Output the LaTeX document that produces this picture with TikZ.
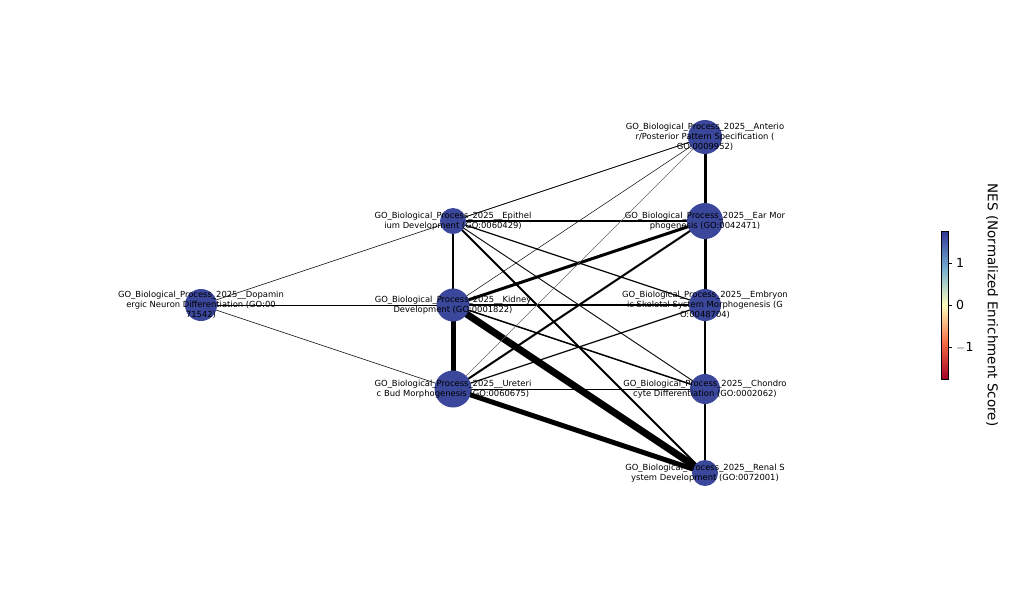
\documentclass[tikz,border=0pt]{standalone}
\usepackage{fontspec}
\setmainfont{DejaVu Sans}
\usetikzlibrary{positioning,backgrounds}
\definecolor{nesblue}{HTML}{3A479A}
\definecolor{rdA}{HTML}{A50026}
\definecolor{rdB}{HTML}{F46D43}
\definecolor{rdC}{HTML}{FFFFBF}
\definecolor{rdD}{HTML}{74ADD1}
\definecolor{rdE}{HTML}{313695}
\tikzset{
  term/.style = {circle, fill = nesblue, inner sep = 0pt},
  lbl/.style = {align = center, font = \fontsize{8.4}{10.2}\selectfont, inner sep = 0pt},
  link/.style = {line width = #1}
}
\begin{document}
\begin{tikzpicture}[x = 1pt, y = -1pt]
  \useasboundingbox (0, 0) rectangle (1009, 611);

  \node[term, minimum size = 32pt] (Dop) at (201, 305) {};
  \node[term, minimum size = 26pt] (Epi) at (453, 221) {};
  \node[term, minimum size = 33pt] (Kid) at (453, 305) {};
  \node[term, minimum size = 37pt] (Ure) at (453, 389) {};
  \node[term, minimum size = 34pt] (Ant) at (705, 137) {};
  \node[term, minimum size = 36pt] (Ear) at (705, 221) {};
  \node[term, minimum size = 32pt] (Emb) at (705, 305) {};
  \node[term, minimum size = 30pt] (Cho) at (705, 389) {};
  \node[term, minimum size = 26pt] (Ren) at (705, 473) {};

  \begin{pgfonlayer}{background}
  \draw[link = 3pt] (Ant.center) -- (Ear.center);
  \draw[link = 3pt] (Ear.center) -- (Emb.center);
  \draw[link = 2pt] (Emb.center) -- (Cho.center);
  \draw[link = 2pt] (Cho.center) -- (Ren.center);
  \draw[link = 2pt] (Epi.center) -- (Ear.center);
  \draw[link = 2.5pt] (Epi.center) -- (Kid.center);
  \draw[link = 5pt] (Kid.center) -- (Ure.center);
  \draw[link = 7pt] (Kid.center) -- (Ren.center);
  \draw[link = 5pt] (Ure.center) -- (Ren.center);
  \draw[link = 3pt] (Kid.center) -- (Ear.center);
  \draw[link = 2pt] (Ure.center) -- (Ear.center);
  \draw[link = 2pt] (Epi.center) -- (Ren.center);
  \draw[link = 1.2pt] (Epi.center) -- (Emb.center);
  \draw[link = 0.9pt] (Epi.center) -- (Cho.center);
  \draw[link = 1.5pt] (Kid.center) -- (Emb.center);
  \draw[link = 1.5pt] (Kid.center) -- (Cho.center);
  \draw[link = 1.2pt] (Ure.center) -- (Emb.center);
  \draw[link = 0.8pt] (Ure.center) -- (Cho.center);
  \draw[link = 0.8pt] (Dop.center) -- (Kid.center);
  \draw[link = 0.5pt] (Dop.center) -- (Ant.center);
  \draw[link = 0.5pt] (Dop.center) -- (Ure.center);
  \draw[link = 0.5pt] (Epi.center) -- (Ant.center);
  \draw[link = 0.5pt] (Kid.center) -- (Ant.center);
  \draw[link = 0.4pt, black!60] (Ure.center) -- (Ant.center);
  \end{pgfonlayer}

  \node[lbl] (DopL) at (Dop) {GO\_Biological\_Process\_2025\_\_Dopamin\\ergic Neuron Differentiation (GO:00\\71542)};
  \node[lbl] (EpiL) at (Epi) {GO\_Biological\_Process\_2025\_\_Epithel\\ium Development (GO:0060429)};
  \node[lbl] (KidL) at (Kid) {GO\_Biological\_Process\_2025\_\_Kidney\\Development (GO:0001822)};
  \node[lbl] (UreL) at (Ure) {GO\_Biological\_Process\_2025\_\_Ureteri\\c Bud Morphogenesis (GO:0060675)};
  \node[lbl] (AntL) at (Ant) {GO\_Biological\_Process\_2025\_\_Anterio\\r/Posterior Pattern Specification (\\GO:0009952)};
  \node[lbl] (EarL) at (Ear) {GO\_Biological\_Process\_2025\_\_Ear Mor\\phogenesis (GO:0042471)};
  \node[lbl] (EmbL) at (Emb) {GO\_Biological\_Process\_2025\_\_Embryon\\ic Skeletal System Morphogenesis (G\\O:0048704)};
  \node[lbl] (ChoL) at (Cho) {GO\_Biological\_Process\_2025\_\_Chondro\\cyte Differentiation (GO:0002062)};
  \node[lbl] (RenL) at (Ren) {GO\_Biological\_Process\_2025\_\_Renal S\\ystem Development (GO:0072001)};

  % colour bar
  \shade[top color = rdB, bottom color = rdA] (941, 342) rectangle (948, 379);
  \shade[top color = rdC, bottom color = rdB] (941, 305) rectangle (948, 342.5);
  \shade[top color = rdD, bottom color = rdC] (941, 268) rectangle (948, 305.5);
  \shade[top color = rdE, bottom color = rdD] (941, 231) rectangle (948, 268.5);
  \draw[line width = 0.8pt] (941, 231) rectangle (948, 379);
  \foreach \v/\y in {1/263, 0/305, {$-$1}/347} {
    \draw[line width = 0.8pt] (948, \y) -- (952, \y);
    \node[anchor = west, font = \fontsize{12.5}{14}\selectfont, inner sep = 0pt] at (956, \y) {\v};
  }
  \node[rotate = -90, font = \fontsize{13.5}{15}\selectfont] (NES) at (992, 305) {NES (Normalized Enrichment Score)};
\end{tikzpicture}
\end{document}
